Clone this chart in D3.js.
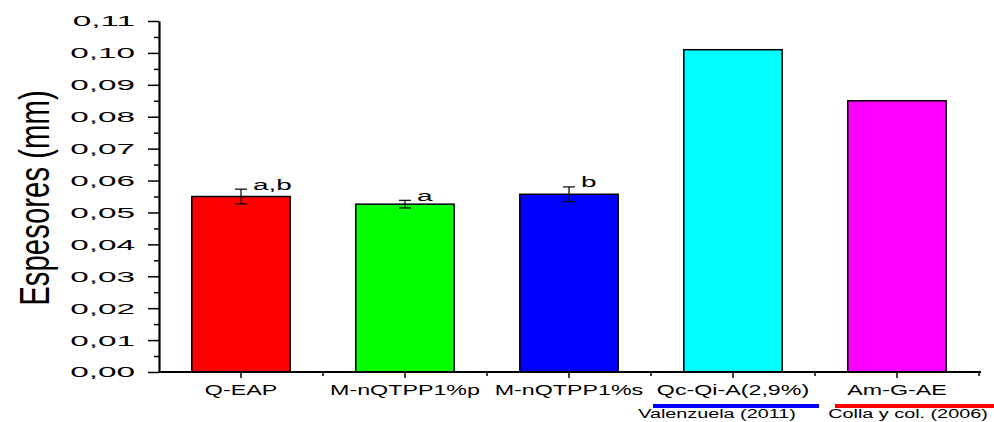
<!DOCTYPE html>
<html>
<head>
<meta charset="utf-8">
<script src="https://cdn.jsdelivr.net/npm/d3@7"></script>
<style>
  body { margin: 0; background: #fff; }
  text { font-family: "Liberation Sans", Arial, sans-serif; fill: #000; }
</style>
</head>
<body>
<div id="chart"></div>
<script>
const categories = ["Q-EAP", "M-nQTPP1%p", "M-nQTPP1%s", "Qc-Qi-A(2,9%)", "Am-G-AE"];
const values = [0.0550, 0.0526, 0.0557, 0.1010, 0.0850];
const errors = [0.0023, 0.0012, 0.0023, null, null];
const letters = ["a,b", "a", "b", "", ""];
const colors = ["#ff0000", "#00ff00", "#0000ff", "#00ffff", "#ff00ff"];
const yTicks = [0, 0.01, 0.02, 0.03, 0.04, 0.05, 0.06, 0.07, 0.08, 0.09, 0.10, 0.11];
const sources = [
  { label: "Valenzuela (2011)", color: "#0000ff", cat: 3 },
  { label: "Colla y col. (2006)", color: "#ff0000", cat: 4 }
];

const width = 994, height = 422;
const margin = { top: 21, right: 15, bottom: 50, left: 159 };

const svg = d3.select("#chart").append("svg")
  .attr("width", width)
  .attr("height", height);

const x = d3.scaleBand()
  .domain(categories)
  .range([margin.left, width - margin.right])
  .paddingInner(0.4)
  .paddingOuter(0.2);

const y = d3.scaleLinear()
  .domain([0, 0.11])
  .range([height - margin.bottom, margin.top]);

const fmt = d => d3.format(".2f")(d).replace(".", ",");
const mid = c => x(c) + x.bandwidth() / 2;

// bars
svg.append("g")
  .selectAll("rect")
  .data(values)
  .join("rect")
  .attr("x", (d, i) => x(categories[i]))
  .attr("y", d => y(d))
  .attr("width", x.bandwidth())
  .attr("height", d => y(0) - y(d))
  .attr("fill", (d, i) => colors[i])
  .attr("stroke", "#000")
  .attr("stroke-width", 1.5);

// error bars
const eb = svg.append("g").attr("stroke", "#000").attr("stroke-width", 1.2);
values.forEach((v, i) => {
  if (errors[i] == null) return;
  const cx = mid(categories[i]);
  const y1 = y(v + errors[i]), y2 = y(v - errors[i]);
  eb.append("line").attr("x1", cx).attr("x2", cx).attr("y1", y1).attr("y2", y2);
  eb.append("line").attr("x1", cx - 6).attr("x2", cx + 6).attr("y1", y1).attr("y2", y1);
  eb.append("line").attr("x1", cx - 6).attr("x2", cx + 6).attr("y1", y2).attr("y2", y2);
});

// significance letters
svg.append("g")
  .selectAll("text")
  .data(values)
  .join("text")
  .attr("transform", (d, i) =>
    `translate(${mid(categories[i]) + 12},${y(d + (errors[i] || 0)) + 0.5}) scale(1.8,1)`)
  .attr("font-size", 15.5)
  .text((d, i) => letters[i]);

// y axis
const yMinor = d3.range(0.005, 0.11, 0.01);
svg.append("g")
  .attr("transform", `translate(${margin.left},0)`)
  .call(d3.axisLeft(y).tickValues(yMinor).tickSize(5).tickFormat(""))
  .call(g => g.select(".domain").remove())
  .call(g => g.selectAll("line").attr("stroke-width", 1.5));

const yAxis = svg.append("g")
  .attr("transform", `translate(${margin.left},0)`)
  .call(d3.axisLeft(y).tickValues(yTicks).tickSize(11).tickSizeOuter(0).tickFormat(fmt));
yAxis.select(".domain").attr("stroke-width", 2.2);
yAxis.selectAll("line").attr("stroke-width", 1.5);
yAxis.selectAll("text")
  .attr("x", 0)
  .attr("font-size", 15.5)
  .attr("font-family", "Liberation Sans, Arial, sans-serif")
  .attr("transform", "translate(-24,0) scale(2.15,1)");

// x axis
const bounds = categories.map(c => mid(c) + x.step() / 2);
const xg = svg.append("g").attr("transform", `translate(0,${y(0)})`);
xg.append("line")
  .attr("x1", margin.left).attr("x2", width - margin.right + 2)
  .attr("stroke", "#000").attr("stroke-width", 1.8);
xg.selectAll(".major")
  .data(categories)
  .join("line")
  .attr("x1", mid).attr("x2", mid)
  .attr("y1", 0).attr("y2", 6)
  .attr("stroke", "#000").attr("stroke-width", 1.5);
xg.selectAll(".minor")
  .data(bounds)
  .join("line")
  .attr("x1", d => d).attr("x2", d => d)
  .attr("y1", 0).attr("y2", 4)
  .attr("stroke", "#000").attr("stroke-width", 1.5);
xg.selectAll("text")
  .data(categories)
  .join("text")
  .attr("transform", c => `translate(${mid(c)},23) scale(1.5,1)`)
  .attr("text-anchor", "middle")
  .attr("font-size", 15.5)
  .text(c => c);

// source lines under the last two categories
const src = svg.append("g");
const lineSpan = [[-80, 86], [-62, 100]];
const textShift = [-16, 11];
sources.forEach((s, k) => {
  const cx = mid(categories[s.cat]);
  src.append("line")
    .attr("x1", cx + lineSpan[k][0]).attr("x2", Math.min(cx + lineSpan[k][1], width))
    .attr("y1", 406).attr("y2", 406)
    .attr("stroke", s.color).attr("stroke-width", 4);
  src.append("text")
    .attr("transform", `translate(${cx + textShift[k]},417.5) scale(1.65,1)`)
    .attr("text-anchor", "middle")
    .attr("font-size", 12)
    .text(s.label);
});

// y title
svg.append("text")
  .attr("transform", `translate(49,198) rotate(-90) scale(0.7,1)`)
  .attr("text-anchor", "middle")
  .attr("font-size", 42)
  .text("Espesores (mm)");
</script>
</body>
</html>
